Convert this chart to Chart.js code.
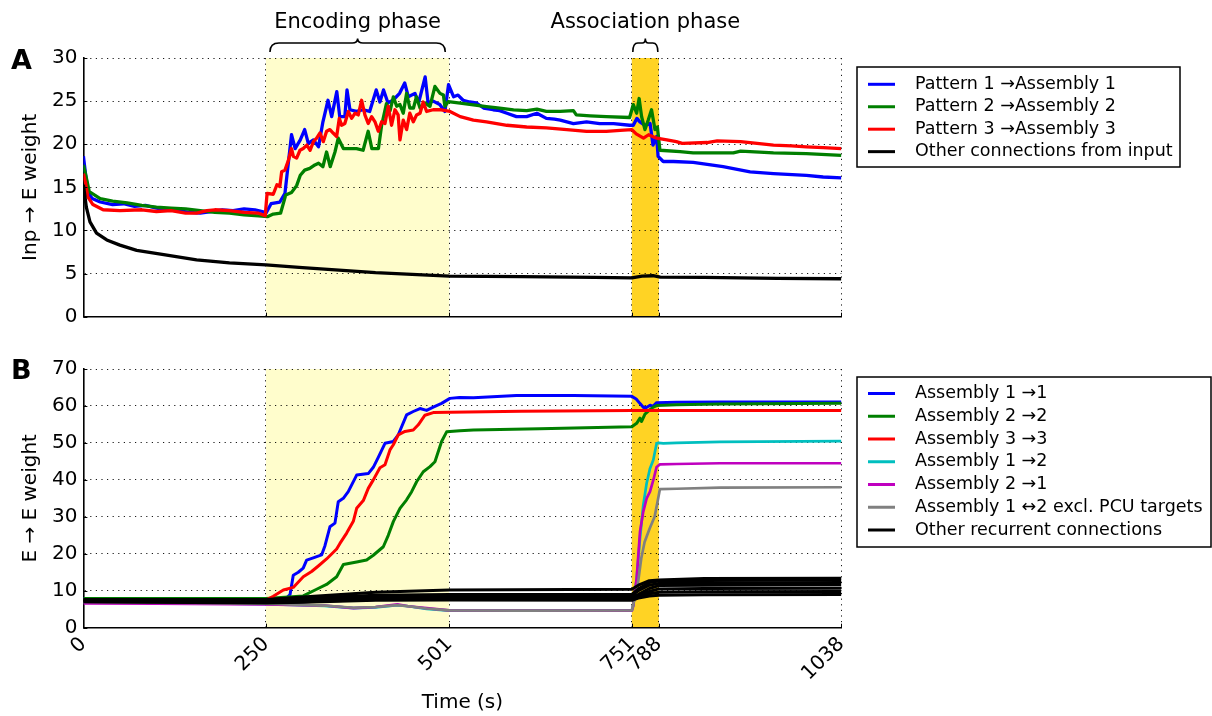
<!DOCTYPE html>
<html>
<head>
<meta charset="utf-8">
<title>Input and recurrent weights</title>
<script src="https://cdn.jsdelivr.net/npm/chart.js@4.4.1/dist/chart.umd.min.js"></script>
<style>
  html, body { margin: 0; padding: 0; background: #fff; overflow: hidden; }
  #figure { position: relative; width: 1212px; height: 716px; }
  #figure canvas { position: absolute; left: 0; }
  #inputChart { top: 0; }
  #recurrentChart { top: 340px; }
</style>
</head>
<body>
<div id="figure">
  <canvas id="inputChart" width="1212" height="340"></canvas>
  <canvas id="recurrentChart" width="1212" height="376"></canvas>
</div>
<script>
// ---- time axis -------------------------------------------------------------
const timeTicks = [0, 250, 501, 751, 788, 1038];
const phaseNames = ['Encoding phase', 'Association phase'];
const phaseBounds = [[250, 501], [751, 788]];

// ---- panel A: input -> E weights, [time (s), weight] ------------------------
const pattern1ToAssembly1 = [[0,18.6],[3,16.5],[7,14.3],[12,13.7],[23,13.3],[40,13.0],[55,13.1],[70,12.8],[85,12.9],[100,12.6],[115,12.4],[130,12.3],[145,12.1],[160,12.0],[175,12.2],[190,12.4],[205,12.3],[220,12.5],[235,12.4],[245,12.2],[250,12.0],[257,13.1],[269,13.3],[276,14.3],[281,18.1],[285,21.1],[290,19.5],[297,20.5],[303,21.7],[308,20.1],[315,20.5],[322,19.7],[328,22.6],[335,25.1],[340,23.2],[347,26.1],[351,23.2],[358,23.2],[361,26.3],[365,24.0],[374,23.8],[383,24.0],[392,23.8],[401,26.3],[406,24.9],[411,26.3],[417,24.8],[424,25.1],[433,25.9],[440,27.1],[445,25.5],[454,25.9],[459,24.8],[468,27.8],[472,24.8],[479,25.0],[488,24.6],[495,23.8],[500,26.9],[507,25.5],[513,25.7],[520,25.1],[529,24.9],[538,24.8],[548,24.2],[561,24.0],[570,23.9],[580,23.6],[593,23.2],[607,23.2],[621,23.6],[634,23.0],[645,22.9],[653,22.8],[671,22.4],[689,22.6],[707,22.4],[726,22.4],[748,22.2],[753,22.2],[758,23.0],[762,22.6],[769,22.2],[776,22.4],[780,19.9],[785,20.9],[787,18.6],[794,18.0],[808,18.0],[835,17.9],[876,17.4],[913,16.8],[945,16.6],[990,16.4],[1013,16.2],[1038,16.1]];
const pattern2ToAssembly2 = [[0,17.6],[3,16.5],[8,14.5],[23,13.7],[40,13.4],[60,13.2],[80,12.9],[100,12.7],[120,12.6],[140,12.5],[160,12.3],[180,12.1],[200,12.0],[220,11.8],[240,11.7],[252,11.6],[260,11.9],[270,12.0],[277,14.1],[285,14.4],[292,15.2],[297,16.4],[303,17.0],[310,17.2],[317,17.6],[322,17.8],[328,17.4],[333,19.1],[338,17.4],[344.5,19.1],[349,20.7],[356,19.5],[365,19.5],[374,19.5],[383,19.3],[390,21.5],[395,19.5],[404,19.5],[408.4,22.2],[415,24.7],[420,23.9],[424.4,25.5],[429,24.4],[433.5,24.6],[438,23.6],[442.6,25.9],[447,24.2],[452,24.2],[456,25.5],[461,24.2],[467.7,24.8],[474.6,24.4],[481.4,26.7],[488.3,25.9],[493,25.7],[495,24.4],[499.7,24.95],[516,24.76],[534,24.56],[552,24.37],[570,24.18],[589,23.98],[607,23.9],[621,24.06],[634,23.8],[653,23.8],[671,23.9],[675,23.4],[694,23.3],[716,23.2],[748,23.1],[753,24.6],[757.6,23.6],[761,25.3],[764.4,23.2],[769,21.7],[773.5,22.8],[778,24.0],[782.7,21.7],[786,22.0],[789.5,19.3],[817,19.15],[835,19.0],[890,19.0],[900,19.2],[945,19.0],[990,18.9],[1038,18.7]];
const pattern3ToAssembly3 = [[0,16.6],[3,15.5],[6,13.9],[13,13.0],[27,12.4],[50,12.3],[80,12.4],[100,12.2],[120,12.3],[140,12.0],[155,12.0],[169,12.3],[180,12.4],[200,12.3],[220,12.1],[240,12.0],[249,11.7],[251.5,14.3],[260,14.2],[265,15.3],[269,15.1],[271.5,16.8],[276,17.0],[280.6,18.1],[285,19.5],[287.5,18.6],[292,18.4],[296.6,19.3],[301,19.5],[306,19.9],[310.5,19.3],[315,20.3],[319.4,20.7],[324,21.3],[328.5,20.3],[333,21.5],[337.6,21.7],[342,21.3],[346.8,20.9],[350.4,23.0],[353.6,22.2],[358,22.4],[362.8,23.8],[367.3,23.0],[372,23.6],[376.4,23.4],[381,25.1],[385.5,23.4],[390,22.4],[394.7,23.2],[399.3,22.6],[403.8,21.5],[408.4,22.6],[413,22.4],[417.5,24.4],[422,22.2],[426.6,24.0],[431,23.4],[433.5,20.5],[438,22.8],[442.6,21.7],[447,23.6],[451.8,22.6],[456.3,23.4],[461,23.6],[465.4,24.9],[470,23.8],[479,24.0],[488,24.0],[502,23.8],[516,23.2],[534,22.8],[552,22.6],[580,22.2],[607,22.0],[634,21.9],[662,21.7],[689,21.5],[716,21.5],[735,21.6],[751,21.7],[757,21.2],[767,20.7],[774,21.1],[785,20.7],[799,20.5],[812,20.3],[820,20.1],[854,20.2],[868,20.4],[900,20.3],[945,19.9],[970,19.8],[990,19.7],[1013,19.6],[1038,19.5]];
const otherInputConnections = [[0,15.3],[2,14.0],[4,12.7],[9,11.0],[18,9.7],[32,8.9],[50,8.3],[73,7.7],[110,7.2],[155,6.6],[200,6.25],[250,6.0],[300,5.7],[350,5.4],[400,5.1],[450,4.9],[501,4.7],[600,4.65],[700,4.55],[751,4.5],[765,4.7],[780,4.75],[790,4.6],[850,4.55],[950,4.45],[1038,4.4]];

// ---- panel B: E -> E weights, [time (s), weight] ----------------------------
const assembly1To1 = [[0,7.9],[250,7.9],[278,8.0],[283,9.0],[287.4,14.2],[294.3,15.0],[301,16.1],[305.7,18.3],[314.8,18.9],[326.2,19.7],[330.8,22.2],[337.6,27.3],[344.5,28.3],[349,34.1],[355.9,35.0],[362.7,36.8],[374.2,41.3],[390.1,41.7],[397,43.4],[403.8,46.1],[413,49.9],[424.4,50.4],[431.2,52.2],[442.6,57.6],[451.7,58.5],[460.9,59.3],[470,58.8],[479.1,59.7],[490.5,60.7],[501.9,62.05],[515,62.3],[534,62.2],[593,62.8],[671,62.8],[751,62.6],[757,61.9],[762,60.7],[767,59.6],[771,59.6],[776,60.2],[780,59.9],[785,60.9],[812,61.0],[872,61.1],[1038,61.1]];
const assembly2To2 = [[0,7.9],[250,7.9],[301,8.6],[319.4,10.4],[333,11.7],[346.8,13.8],[356,17.1],[374.2,17.8],[387.8,18.3],[397,19.6],[410.7,21.9],[417.5,25.0],[424.4,28.7],[433.5,32.3],[442.6,34.6],[449.5,36.8],[456.3,39.5],[465.4,42.2],[474.6,43.6],[481.4,44.9],[490.5,50.4],[497.4,53.0],[515.6,53.3],[534,53.5],[625,53.8],[751,54.4],[757.6,55.3],[762.2,56.7],[764.4,55.8],[769,57.8],[775.9,59.0],[780.4,59.7],[785,60.1],[812.4,60.3],[872,60.5],[1038,60.7]];
const assembly3To3 = [[0,7.5],[250,7.5],[260,8.5],[273.8,10.2],[287.4,10.9],[301.1,13.8],[312.5,15.2],[321.7,16.7],[333,18.6],[346.8,21.3],[351.3,22.8],[360.5,25.6],[369.6,28.8],[374.2,32.3],[383.3,34.4],[390.1,37.7],[397,40.0],[406.1,43.3],[413,44.1],[419.8,48.1],[424.4,49.5],[431.2,52.2],[440.3,53.1],[451.7,53.5],[458.6,54.9],[467.7,57.5],[479.1,58.2],[501.9,58.3],[600,58.6],[751,58.8],[1038,58.8]];
const assembly1To2 = [[0,6.9],[100,6.7],[200,6.5],[250,6.4],[330,5.9],[370,5.3],[400,5.5],[430,6.1],[445,5.8],[470,5.1],[501,4.6],[600,4.6],[751,4.7],[753,6.0],[757.6,13.3],[762.2,24.2],[766.7,33.2],[771.3,39.1],[775.9,43.1],[780.4,45.4],[785,49.9],[787.3,50.0],[794.1,49.9],[812.4,50.0],[871.7,50.3],[1038,50.5]];
const assembly2To1 = [[0,6.6],[100,6.5],[200,6.4],[250,6.3],[330,6.0],[370,5.3],[400,5.6],[430,6.3],[445,5.8],[470,5.3],[501,4.7],[600,4.6],[751,4.6],[753,6.0],[757.6,13.3],[762.2,26.0],[766.7,31.4],[771.3,35.0],[775.9,36.8],[780.4,39.9],[785,43.5],[789.5,44.2],[812.4,44.3],[871.7,44.5],[1038,44.5]];
const assembly1And2ExclPcu = [[0,7.0],[100,6.8],[200,6.6],[250,6.5],[330,6.0],[370,5.4],[400,5.6],[430,6.1],[445,5.8],[470,5.2],[501,4.7],[600,4.6],[751,4.7],[755,8.0],[759,11.5],[763.9,18.7],[768.5,23.2],[775.3,26.8],[782.2,30.0],[787,34.9],[789.5,37.5],[812.4,37.6],[871.7,37.9],[1038,38.0]];

// other recurrent connections: one weight list per connection group
const otherRecurrentTime = [0, 250, 300, 400, 501, 751, 760, 775, 788, 850, 1038];
const otherRecurrentWeights = [
  [7.6, 7.6, 8.3, 9.6, 10.2, 10.4, 11.5, 12.7, 12.9, 13.3, 13.4],
  [7.5, 7.4, 8.0, 8.8, 9.0, 9.0, 10.5, 12.2, 12.6, 12.8, 12.9],
  [7.4, 7.2, 7.6, 8.5, 8.7, 8.8, 10.0, 11.5, 12.0, 12.1, 12.2],
  [7.3, 7.0, 7.3, 8.2, 8.4, 8.3, 9.0, 10.6, 11.4, 11.5, 11.6],
  [7.2, 6.9, 7.2, 7.9, 8.0, 8.0, 8.6, 9.8, 10.5, 10.6, 10.7],
  [7.1, 6.8, 7.0, 7.6, 7.7, 7.6, 8.3, 9.2, 9.6, 9.7, 9.8],
  [7.0, 6.7, 6.9, 7.4, 7.5, 7.4, 8.0, 8.6, 8.8, 8.9, 9.0]
];

// ---- series labels and colours ---------------------------------------------
const inputLabels = ['Pattern 1 \u2192Assembly 1', 'Pattern 2 \u2192Assembly 2', 'Pattern 3 \u2192Assembly 3', 'Other connections from input'];
const inputColors = ['#0000ff', '#007f00', '#ff0000', '#000000'];
const inputData = [pattern1ToAssembly1, pattern2ToAssembly2, pattern3ToAssembly3, otherInputConnections];

const recurrentLabels = ['Assembly 1 \u21921', 'Assembly 2 \u21922', 'Assembly 3 \u21923', 'Assembly 1 \u21922', 'Assembly 2 \u21921', 'Assembly 1 \u21942 excl. PCU targets', 'Other recurrent connections'];
const recurrentColors = ['#0000ff', '#007f00', '#ff0000', '#00bfbf', '#bf00bf', '#808080', '#000000'];
const recurrentData = [assembly1To1, assembly2To2, assembly3To3, assembly1To2, assembly2To1, assembly1And2ExclPcu];

// ---- helpers ---------------------------------------------------------------
const FONT = "'DejaVu Sans', 'Liberation Sans', sans-serif";
Chart.defaults.font.family = FONT;
Chart.defaults.color = '#000';

const toPoints = pairs => pairs.map(([t, w]) => ({ x: t, y: w }));

function lineSet(label, data, color, width, order) {
  return {
    label, data, borderColor: color, backgroundColor: color,
    borderWidth: width, pointRadius: 0, tension: 0, fill: false,
    borderJoinStyle: 'round', order
  };
}

// shaded phase spans, drawn underneath the grid
const phaseShading = {
  id: 'phaseShading',
  beforeDraw(chart, args, opts) {
    const { ctx, chartArea: a, scales: { x } } = chart;
    ctx.save();
    opts.spans.forEach(s => {
      const x0 = x.getPixelForValue(s.from);
      const x1 = x.getPixelForValue(s.to);
      ctx.fillStyle = s.color;
      ctx.fillRect(x0, a.top, x1 - x0, a.bottom - a.top);
    });
    ctx.restore();
  }
};

// short inward tick marks on the left and bottom axes
const innerTicks = {
  id: 'innerTicks',
  afterDatasetsDraw(chart, args, opts) {
    const { ctx, chartArea: a, scales: { x, y } } = chart;
    const len = opts.length;
    ctx.save();
    ctx.strokeStyle = '#000';
    ctx.lineWidth = 1;
    ctx.beginPath();
    y.ticks.forEach(t => {
      const py = Math.round(y.getPixelForValue(t.value)) + 0.5;
      ctx.moveTo(a.left, py); ctx.lineTo(a.left + len, py);
    });
    x.ticks.forEach(t => {
      const px = Math.round(x.getPixelForValue(t.value)) + 0.5;
      ctx.moveTo(px, a.bottom); ctx.lineTo(px, a.bottom - len);
    });
    ctx.stroke();
    ctx.restore();
  }
};

// framed legend to the right of the plot
const boxLegend = {
  id: 'boxLegend',
  afterDraw(chart, args, o) {
    const ctx = chart.ctx;
    ctx.save();
    ctx.fillStyle = '#fff';
    ctx.fillRect(o.left, o.top, o.width, o.height);
    ctx.strokeStyle = '#000';
    ctx.lineWidth = 1.5;
    ctx.strokeRect(o.left, o.top, o.width, o.height);
    ctx.font = o.font;
    ctx.textBaseline = 'middle';
    ctx.textAlign = 'left';
    o.labels.forEach((label, i) => {
      const cy = o.top + o.firstRow + i * o.rowGap;
      ctx.strokeStyle = o.colors[i];
      ctx.lineWidth = 3;
      ctx.beginPath();
      ctx.moveTo(o.left + 11, cy);
      ctx.lineTo(o.left + 38, cy);
      ctx.stroke();
      ctx.fillStyle = '#000';
      ctx.fillText(label, o.left + 58, cy);
    });
    ctx.restore();
  }
};

// bold panel letter
const panelLetter = {
  id: 'panelLetter',
  afterDraw(chart, args, o) {
    const ctx = chart.ctx;
    ctx.save();
    ctx.font = 'bold 27px ' + FONT;
    ctx.fillStyle = '#000';
    ctx.textBaseline = 'alphabetic';
    ctx.fillText(o.text, o.x, o.y);
    ctx.restore();
  }
};

// phase names with curly braces above the top panel
const phaseBraces = {
  id: 'phaseBraces',
  afterDraw(chart, args, o) {
    const { ctx, scales: { x } } = chart;
    ctx.save();
    ctx.strokeStyle = '#000';
    ctx.lineWidth = 1.6;
    ctx.fillStyle = '#000';
    ctx.font = '21px ' + FONT;
    ctx.textAlign = 'center';
    ctx.textBaseline = 'alphabetic';
    o.phases.forEach(p => {
      const a = x.getPixelForValue(p.from);
      const b = x.getPixelForValue(p.to);
      const inset = (b - a) > 100 ? 4 : 1;
      const x1 = a + inset, x2 = b - inset, xm = (a + b) / 2;
      const r = Math.min(9, (x2 - x1) / 5);
      const yEnd = o.yEnd, yBar = o.yBar, yTip = o.yTip;
      ctx.beginPath();
      ctx.moveTo(x1, yEnd);
      ctx.quadraticCurveTo(x1, yBar, x1 + r, yBar);
      ctx.lineTo(xm - r * 0.6, yBar);
      ctx.quadraticCurveTo(xm, yBar, xm, yTip);
      ctx.quadraticCurveTo(xm, yBar, xm + r * 0.6, yBar);
      ctx.lineTo(x2 - r, yBar);
      ctx.quadraticCurveTo(x2, yBar, x2, yEnd);
      ctx.stroke();
      ctx.fillText(p.name, xm, o.textY);
    });
    ctx.restore();
  }
};

const phaseSpans = [
  { from: phaseBounds[0][0], to: phaseBounds[0][1], color: '#fffdcc' },
  { from: phaseBounds[1][0], to: phaseBounds[1][1], color: '#ffd324' }
];

function timeAxis(showLabels, height, withTitle) {
  return {
    type: 'linear', min: 0, max: 1038,
    afterBuildTicks: s => { s.ticks = timeTicks.map(v => ({ value: v })); },
    afterFit: s => { s.height = height; },
    ticks: {
      display: showLabels, autoSkip: false, minRotation: 45, maxRotation: 45,
      padding: 5, font: { size: 20 }, color: '#000',
      callback: v => String(v)
    },
    grid: { color: 'rgba(0,0,0,0.9)', lineWidth: 1, drawTicks: false },
    border: { display: true, color: '#000', width: 1.6, dash: [1.2, 4.4] },
    title: withTitle ? { display: true, text: 'Time (s)', font: { size: 20 }, color: '#000', padding: { top: 0, bottom: 1.5 } } : { display: false }
  };
}

function weightAxis(max, step, title) {
  return {
    min: 0, max,
    afterFit: s => { s.width = 83.4; },
    ticks: { stepSize: step, padding: 6, font: { size: 20 }, color: '#000' },
    grid: { color: 'rgba(0,0,0,0.9)', lineWidth: 1, drawTicks: false },
    border: { display: true, color: '#000', width: 1.6, dash: [1.2, 4.4] },
    title: { display: true, text: title, font: { size: 20 }, color: '#000', padding: { top: 18.5, bottom: 0 } }
  };
}

const commonOptions = {
  responsive: false, animation: false, devicePixelRatio: 1, events: [],
};

// ---- panel A ---------------------------------------------------------------
new Chart(document.getElementById('inputChart'), {
  type: 'line',
  data: {
    datasets: inputData.map((d, i) =>
      lineSet(inputLabels[i], toPoints(d), inputColors[i], 3.3, inputData.length - i))
  },
  options: {
    ...commonOptions,
    layout: { padding: { left: 0, right: 370.6, top: 58, bottom: 0 } },
    scales: {
      x: timeAxis(false, 23.3, false),
      y: weightAxis(30, 5, 'Inp \u2192 E weight')
    },
    plugins: {
      legend: { display: false }, tooltip: { enabled: false },
      phaseShading: { spans: phaseSpans },
      innerTicks: { length: 4 },
      boxLegend: {
        left: 857, top: 67, width: 323, height: 100, firstRow: 17.3, rowGap: 22.45,
        font: '17.5px ' + FONT, labels: inputLabels, colors: inputColors
      },
      panelLetter: { text: 'A', x: 11, y: 69 },
      phaseBraces: {
        yEnd: 52, yBar: 43, yTip: 38.5, textY: 28,
        phases: phaseBounds.map((b, i) => ({ from: b[0], to: b[1], name: phaseNames[i] }))
      }
    }
  },
  plugins: [phaseShading, innerTicks, boxLegend, panelLetter, phaseBraces]
});

// ---- panel B ---------------------------------------------------------------
const recurrentSets = recurrentData.map((d, i) =>
  lineSet(recurrentLabels[i], toPoints(d), recurrentColors[i], i < 3 ? 3 : 2.7, 20 - i));
otherRecurrentWeights.forEach((w, k) => {
  const pts = otherRecurrentTime.map((t, j) => ({ x: t, y: w[j] }));
  recurrentSets.push(lineSet(recurrentLabels[6], pts, '#000000', 3, 10 - k));
});

new Chart(document.getElementById('recurrentChart'), {
  type: 'line',
  data: { datasets: recurrentSets },
  options: {
    ...commonOptions,
    layout: { padding: { left: 0, right: 370.6, top: 29, bottom: 0 } },
    scales: {
      x: timeAxis(true, 88.3, true),
      y: weightAxis(70, 10, 'E \u2192 E weight')
    },
    plugins: {
      legend: { display: false }, tooltip: { enabled: false },
      phaseShading: { spans: phaseSpans },
      innerTicks: { length: 4 },
      boxLegend: {
        left: 857, top: 37, width: 354, height: 170, firstRow: 16.5, rowGap: 22.75,
        font: '17.5px ' + FONT, labels: recurrentLabels, colors: recurrentColors
      },
      panelLetter: { text: 'B', x: 11, y: 39.3 }
    }
  },
  plugins: [phaseShading, innerTicks, boxLegend, panelLetter]
});
</script>
</body>
</html>
